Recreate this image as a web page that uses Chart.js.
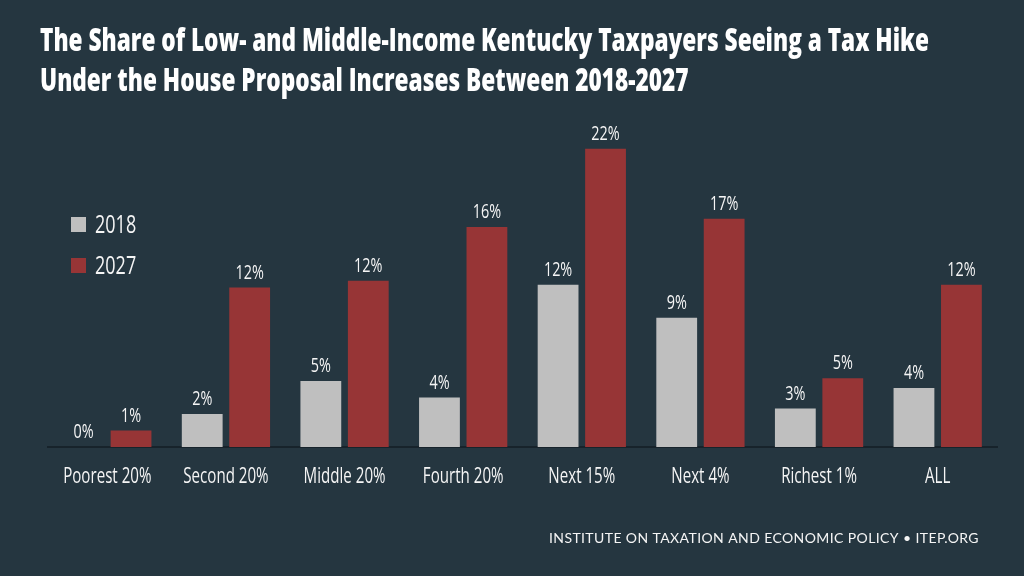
<!DOCTYPE html>
<html>
<head>
<meta charset="utf-8">
<title>Kentucky House Proposal - Tax Hike Share</title>
<script src="https://cdn.jsdelivr.net/npm/chart.js@4.4.1/dist/chart.umd.min.js"></script>
<style>
  html, body { margin: 0; padding: 0; background: #253640; }
  canvas { display: block; }
</style>
</head>
<body>
<canvas id="chart" width="1024" height="576"></canvas>
<script>
const categories = ['Poorest 20%', 'Second 20%', 'Middle 20%', 'Fourth 20%', 'Next 15%', 'Next 4%', 'Richest 1%', 'ALL'];
const share2018 = [0, 2.4, 4.8, 3.6, 11.8, 9.4, 2.8, 4.3];
const share2027 = [1.2, 11.6, 12.1, 16.0, 21.7, 16.6, 5.0, 11.8];
const seriesNames = ['2018', '2027'];
const titleLines = [
  'The Share of Low- and Middle-Income Kentucky Taxpayers Seeing a Tax Hike',
  'Under the House Proposal Increases Between 2018-2027'
];
const footerText = 'INSTITUTE ON TAXATION AND ECONOMIC POLICY \u2022 ITEP.ORG';

const BG = '#253640';
const GREY = '#bfbfbf';
const RED = '#973536';
const TEXT = '#f5f5f5';
const SANS = '"Open Sans", "Noto Sans", sans-serif';
const SQUEEZE = 0.72;   // fake a condensed face by squashing horizontally

// draw text squashed horizontally, anchored like normal fillText
function narrowText(ctx, text, x, y, sx) {
  ctx.save();
  ctx.translate(x, y);
  ctx.scale(sx, 1);
  ctx.fillText(text, 0, 0);
  ctx.restore();
}

const bgPlugin = {
  id: 'bg',
  beforeDraw(chart) {
    const ctx = chart.ctx;
    ctx.save();
    ctx.fillStyle = BG;
    ctx.fillRect(0, 0, chart.width, chart.height);
    ctx.restore();
  }
};

// title, category labels, legend and footer
const texts = {
  id: 'texts',
  afterDraw(chart) {
    const ctx = chart.ctx;
    const xs = chart.scales.x;
    ctx.save();

    // title: squeeze so the first line is as wide as in the original
    ctx.fillStyle = '#ffffff';
    ctx.font = '800 31px ' + SANS;
    ctx.textAlign = 'left';
    ctx.textBaseline = 'alphabetic';
    const tsx = 889 / ctx.measureText(titleLines[0]).width;
    titleLines.forEach((line, i) => narrowText(ctx, line, 40, 51 + i * 40, tsx));

    // category labels under the axis
    ctx.fillStyle = TEXT;
    ctx.font = '21px ' + SANS;
    ctx.textAlign = 'center';
    categories.forEach((c, i) => {
      narrowText(ctx, c, xs.getPixelForTick(i), chart.chartArea.bottom + 36, SQUEEZE);
    });

    // legend floating in the plot
    chart.data.datasets.forEach((ds, i) => {
      const y = 224 + i * 41;
      ctx.fillStyle = ds.backgroundColor;
      ctx.fillRect(71, y - 7, 15, 15);
      ctx.fillStyle = TEXT;
      ctx.font = '25px ' + SANS;
      ctx.textAlign = 'left';
      narrowText(ctx, ds.label, 95, y + 9, SQUEEZE);
    });

    // footer credit
    ctx.font = '14px Lato, "Open Sans", sans-serif';
    ctx.textAlign = 'right';
    ctx.letterSpacing = '0.4px';
    ctx.fillText(footerText, 979, 543);
    ctx.restore();
  }
};

// percent labels above every bar
const valueLabels = {
  id: 'valueLabels',
  afterDatasetsDraw(chart) {
    const ctx = chart.ctx;
    ctx.save();
    ctx.fillStyle = TEXT;
    ctx.font = '20px ' + SANS;
    ctx.textAlign = 'center';
    ctx.textBaseline = 'alphabetic';
    chart.data.datasets.forEach((ds, i) => {
      chart.getDatasetMeta(i).data.forEach((bar, j) => {
        narrowText(ctx, Math.round(ds.data[j]) + '%', bar.x, bar.y - 9, SQUEEZE);
      });
    });
    ctx.restore();
  }
};

new Chart(document.getElementById('chart'), {
  type: 'bar',
  data: {
    labels: categories,
    datasets: [
      { label: seriesNames[0], data: share2018, backgroundColor: GREY },
      { label: seriesNames[1], data: share2027, backgroundColor: RED }
    ]
  },
  options: {
    responsive: false,
    animation: false,
    devicePixelRatio: 1,
    categoryPercentage: 0.8,
    barPercentage: 0.86,
    layout: { padding: { top: 117, left: 40, right: 27, bottom: 129 } },
    plugins: {
      legend: { display: false },
      tooltip: { enabled: false },
      title: { display: false }
    },
    scales: {
      x: {
        grid: { display: false, drawTicks: false },
        border: { color: '#17232b', width: 2 },
        ticks: { display: false }
      },
      y: {
        min: 0,
        max: 24,
        grid: { display: false },
        border: { display: false },
        ticks: { display: false },
        afterFit(scale) { scale.width = 8; }
      }
    }
  },
  plugins: [bgPlugin, valueLabels, texts]
});
</script>
</body>
</html>
